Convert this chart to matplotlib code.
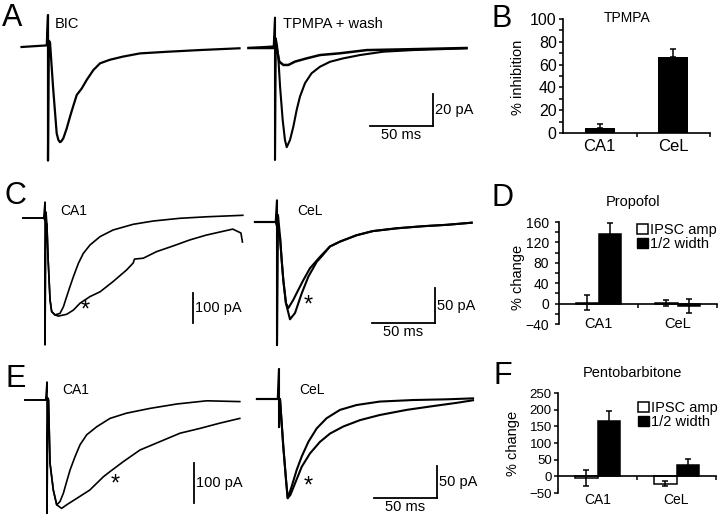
import matplotlib
matplotlib.use('Agg')
import matplotlib.pyplot as plt
from matplotlib.patches import Patch

plt.rcParams['font.family'] = ['Liberation Sans', 'DejaVu Sans']

W, H = 720, 514

# ---- traces: time in ms from the stimulus, current in pA from baseline
# A: BIC / TPMPA + wash
A_bic_t = [-21, -1, 0, 0, 0.6, 1.6, 4, 6.9, 8.2, 9.5, 10.5, 12.2, 14.8, 17.5, 20, 22.8, 26.7,
           30.7, 36, 41.3, 49, 59.5, 73, 94, 120.6, 152]
A_bic_pA = [0, 1, 20, -71, 4, 3, -25, -54, -58, -59.5, -59, -57, -51, -43.5, -37, -30, -26,
            -20.6, -14.4, -10.2, -8, -6, -4, -3, -1.9, -0.8]
A_wash_t = [-21, -1, 0, 0, 0.6, 1.5, 2.6, 4, 6.1, 7.9, 9.3, 11.9, 14.6, 17.2, 19.8, 23.8, 29,
            35.7, 43.7, 54, 67.5, 86, 109.8, 152]
A_wash_pA = [0, 1, 19, -70, 6, 2, -5.4, -24, -45, -57.5, -62, -57.5, -49, -38.7, -30.4, -22,
             -15.8, -11.7, -8.6, -6.5, -4.4, -2.3, -1.3, -0.2]
A_tpmpa_t = [-21, -1, 1.3, 3.4, 6.6, 10.6, 15.9, 25, 35.7, 51.6, 72.8, 104.5, 152]
A_tpmpa_pA = [0, 0, 0, -8.5, -10.6, -10.6, -8.5, -6.5, -4.4, -3.3, -1.3, -0.8, 0]

# C: propofol
C_ca1_ctrl_t = [-17.5, -1, 0, 0, 0.8, 1.5, 2.5, 4, 5.3, 7.9, 11.9, 14.6, 17.2, 19.8, 22.5, 26.5,
                30.4, 35.7, 43.7, 54, 70, 86, 107, 128, 157]
C_ca1_ctrl_pA = [0, 0, 53, -423, 20, -20, -140, -273, -312, -323, -318, -296, -262, -229, -196,
                 -151, -118, -90, -62, -40, -21, -10, -1, 4, 9]
C_ca1_drug_t = [-17.5, -1, 1.5, 2.5, 4, 5.3, 7.9, 10.6, 17.2, 22.5, 27.8, 35.7, 43.7, 54, 64.8,
                70, 71, 78, 88.6, 101.8, 115, 128, 149, 155.5, 156.7]
C_ca1_drug_pA = [0, 0, -20, -140, -273, -312, -323, -327, -321, -307, -284, -262, -246, -212, -173,
                 -150, -137, -134, -112, -93, -73, -57, -37, -50, -80]
C_cel_ctrl_t = [-17.5, -1, 0, 0, 0.8, 2.4, 3.7, 5, 7.1, 9, 13, 16.9, 20.9, 26.2, 34, 42, 50, 63,
                76, 95, 116, 135, 154.5]
C_cel_ctrl_pA = [0, 0, 31, -176, 10, -21, -54, -83, -116, -123, -111, -97, -83, -66, -50, -35, -28,
                 -19, -13, -9, -6, -4, -1]
C_cel_drug_t = [-17.5, -1, 2.4, 3.7, 5, 7.1, 10.3, 14.3, 19.6, 24.9, 31.5, 36, 42, 50, 63, 76, 95,
                116, 135, 154.5]
C_cel_drug_pA = [0, 0, -21, -54, -83, -116, -139, -130, -102, -78, -57, -48, -35, -28, -19, -13, -9,
                 -6, -4, -1]

# E: pentobarbitone
E_ca1_ctrl_t = [-17.5, -1, 0, 0, 0.8, 1.2, 2.4, 5, 7.7, 10.3, 13, 15.6, 18.3, 22.2, 26.2, 31.5,
                39.4, 50, 63, 81.7, 103, 126.7, 153]
E_ca1_ctrl_pA = [0, 0, 45, -285, 5, 0, -158, -225, -262, -254, -233, -204, -175, -142, -112, -87,
                 -67, -46, -33, -21, -10, -2, -4]
E_ca1_drug_t = [-17.5, -1, 1.2, 2.4, 5, 7.7, 11.6, 15.6, 23.6, 34, 44.7, 50, 60.6, 73.8, 89.7,
                105.6, 121.4, 137, 153]
E_ca1_drug_pA = [0, 0, 0, -158, -225, -262, -271, -262, -246, -225, -192, -179, -154, -125, -104,
                 -83, -71, -58, -46]
E_cel_ctrl_t = [-17.5, -1, 0, 0, 0.5, 0.8, 3.4, 5.6, 6.9, 10, 14, 18, 23.3, 29.9, 37.8, 48.4, 61.6,
                80, 106.6, 133, 154]
E_cel_ctrl_pA = [0, 0, 47, -44, 0, 0, -74, -127, -155, -137, -111, -90, -67, -46, -30, -17, -9.4,
                 -4, -1.6, -0.5, 1]
E_cel_drug_t = [-17.5, -1, 0.8, 3.4, 5.6, 6.9, 9, 12.7, 18, 24.6, 32.5, 40.5, 51, 64.3, 80, 101.3,
                122.5, 141, 154]
E_cel_drug_pA = [0, 0, 0, -74, -127, -155, -150, -132, -106, -85, -67, -54, -43, -33, -25, -17,
                 -11, -6, -2]

# ---- bar data
cats = ['CA1', 'CeL']
tpmpa_inhib = [4, 67]
tpmpa_err = [4, 6.5]
prop_amp = [1.5, 1.5]
prop_amp_err = [14.5, 6.5]
prop_width = [136, -4.5]
prop_width_err = [22, 13]
pento_amp = [-6, -22]
pento_amp_err = [24, 7]
pento_width = [167, 33]
pento_width_err = [28, 18]
legend_labels = ['IPSC amp', '1/2 width']

fig = plt.figure(figsize=(W / 100, H / 100), dpi=100)
fig.patch.set_facecolor('white')


def px_rect(left, top, width, height):
    return [left / W, 1 - (top + height) / H, width / W, height / H]


def fxy(x, y):
    return x / W, 1 - y / H


def trace_axes(left, right, top, bottom, stim_x, base_y, px_ms, px_pA):
    # invisible axes; t=0 at the stimulus pixel, 0 pA at the baseline pixel
    ax = fig.add_axes(px_rect(left, top, right - left, bottom - top))
    ax.set_xlim((left - stim_x) / px_ms, (right - stim_x) / px_ms)
    ax.set_ylim(-(bottom - base_y) / px_pA, (base_y - top) / px_pA)
    ax.axis('off')
    return ax


def trace(ax, t, pA, lw=1.2):
    ax.plot(t, pA, color='k', lw=lw, clip_on=False, solid_joinstyle='round')


def scale_bar(ax, t_end, y0, pA, ms=None):
    ax.plot([t_end, t_end], [y0, y0 + pA], color='k', lw=1.3, clip_on=False)
    ax.annotate(f'{pA} pA', xy=(t_end, y0 + pA / 2), xytext=(1.5, 0),
                textcoords='offset points', ha='left', va='center', fontsize=10.5)
    if ms:
        ax.plot([t_end - ms, t_end], [y0, y0], color='k', lw=1.3, clip_on=False)
        ax.annotate(f'{ms} ms', xy=(t_end - ms / 2, y0), xytext=(0, -1.5),
                    textcoords='offset points', ha='center', va='top', fontsize=10.5)


def label(ax, t, pA, s, size=10):
    ax.text(t, pA, s, ha='left', va='center', fontsize=size)


def star(ax, t, pA):
    ax.text(t, pA, '*', ha='center', va='center', fontsize=17)


# ---- row A
ax = trace_axes(0, 246, 0, 165, 48, 47, 1.26, 1.6)
trace(ax, A_bic_t, A_bic_pA, 1.6)
label(ax, 5.6, 14.4, 'BIC', 10.5)

ax = trace_axes(246, 480, 0, 165, 275, 48, 1.26, 1.6)
trace(ax, A_wash_t, A_wash_pA, 1.5)
trace(ax, A_tpmpa_t, A_tpmpa_pA, 1.8)
label(ax, 6.3, 15, 'TPMPA + wash', 10.5)
scale_bar(ax, 125.4, -48.75, 20, 50)

# ---- row C
ax = trace_axes(0, 246, 165, 345, 45, 218, 1.26, 0.3)
trace(ax, C_ca1_ctrl_t, C_ca1_ctrl_pA)
trace(ax, C_ca1_drug_t, C_ca1_drug_pA)
label(ax, 11.9, 23, 'CA1')
star(ax, 31.7, -310)
scale_bar(ax, 117.5, -350, 100)

ax = trace_axes(246, 480, 165, 345, 277, 222, 1.26, 0.7)
trace(ax, C_cel_ctrl_t, C_cel_ctrl_pA, 1.5)
trace(ax, C_cel_drug_t, C_cel_drug_pA, 1.5)
label(ax, 15.9, 15.7, 'CeL')
star(ax, 24.6, -120)
scale_bar(ax, 125.4, -144.3, 50, 50)

# ---- row E
ax = trace_axes(0, 246, 345, 514, 47, 400, 1.26, 0.4)
trace(ax, E_ca1_ctrl_t, E_ca1_ctrl_pA)
trace(ax, E_ca1_drug_t, E_ca1_drug_pA)
label(ax, 11.9, 25, 'CA1')
star(ax, 54, -212)
scale_bar(ax, 116.7, -257.5, 100)

ax = trace_axes(246, 480, 345, 514, 279, 399, 1.26, 0.64)
trace(ax, E_cel_ctrl_t, E_cel_ctrl_pA, 1.5)
trace(ax, E_cel_drug_t, E_cel_drug_pA, 1.5)
label(ax, 15.9, 14, 'CeL')
star(ax, 23, -136)
scale_bar(ax, 125.4, -154.7, 50, 50)


# ---- bar charts
def bar_axes(left, right, top, bottom, ylim, step, minor, tick_size, label_pad, ytick_pad):
    ax = fig.add_axes(px_rect(left, top, right - left, bottom - top))
    ax.set_xlim(0, 2)
    ax.set_ylim(*ylim)
    ax.patch.set_alpha(0)
    for s in ('top', 'right'):
        ax.spines[s].set_visible(False)
    for s in ('left', 'bottom'):
        ax.spines[s].set_linewidth(1.2)
    ax.spines['bottom'].set_position(('data', 0))
    ax.spines['bottom'].set_bounds(0, 2)
    ax.set_xticks([0.5, 1.5], cats, fontsize=tick_size + 0.5)
    ax.set_xticks([1, 2], minor=True)
    ax.tick_params(axis='x', which='major', length=0, pad=label_pad)
    ax.tick_params(axis='x', which='minor', length=3, width=1.1, direction='out')
    ax.set_yticks(range(ylim[0], ylim[1] + 1, step))
    if minor:
        ax.set_yticks(range(ylim[0], ylim[1] + 1, minor), minor=True)
    ax.tick_params(axis='y', which='both', length=3, width=1.1, direction='out',
                   labelsize=tick_size, pad=ytick_pad)
    return ax


# B
ax = bar_axes(563, 710, 19, 133, (0, 100), 20, 10, 11.5, 4.5, 1.5)
ax.bar([0.5, 1.5], tpmpa_inhib, width=0.41, color='k', zorder=2)
ax.errorbar([0.5, 1.5], tpmpa_inhib, yerr=[[0, 0], tpmpa_err], fmt='none',
            ecolor='k', elinewidth=1.1, capsize=2.5, capthick=1.1, zorder=3)
fig.text(*fxy(627, 18), 'TPMPA', ha='center', va='center', fontsize=10)
fig.text(*fxy(518, 77), '% inhibition', ha='center', va='center', rotation=90, fontsize=10.5)


def grouped(ax, amp, amp_err, width, width_err):
    xa = [0.5 - 0.14, 1.5 - 0.14]
    xw = [0.5 + 0.14, 1.5 + 0.14]
    ax.bar(xa, amp, width=0.28, color='white', edgecolor='k', lw=1.1, zorder=2)
    ax.bar(xw, width, width=0.28, color='k', edgecolor='k', lw=1.1, zorder=2)
    ax.errorbar(xa, amp, yerr=amp_err, fmt='none', ecolor='k',
                elinewidth=1.1, capsize=2.5, capthick=1.1, zorder=3)
    ax.errorbar(xw, width, yerr=width_err, fmt='none', ecolor='k',
                elinewidth=1.1, capsize=2.5, capthick=1.1, zorder=3)


def bar_legend(ax, x, y):
    handles = [Patch(facecolor='white', edgecolor='k', lw=1.1),
               Patch(facecolor='k', edgecolor='k')]
    ax.legend(handles, legend_labels, loc='upper left', bbox_to_anchor=fxy(x, y),
              bbox_transform=fig.transFigure, frameon=False, fontsize=10.5,
              handlelength=0.75, handleheight=0.75, handletextpad=0.15,
              labelspacing=0.0, borderpad=0, borderaxespad=0)


# D
ax = bar_axes(559, 717, 222, 324, (-40, 160), 40, 20, 10, 10, 4)
grouped(ax, prop_amp, prop_amp_err, prop_width, prop_width_err)
bar_legend(ax, 637, 223)
fig.text(*fxy(633, 202), 'Propofol', ha='center', va='center', fontsize=10.5)
fig.text(*fxy(518, 277), '% change', ha='center', va='center', rotation=90, fontsize=10.5)

# F
ax = bar_axes(558, 716, 393, 493, (-50, 250), 50, None, 9.5, 12, 1.5)
grouped(ax, pento_amp, pento_amp_err, pento_width, pento_width_err)
bar_legend(ax, 638, 401)
fig.text(*fxy(632, 373), 'Pentobarbitone', ha='center', va='center', fontsize=10.5)
fig.text(*fxy(513, 443), '% change', ha='center', va='center', rotation=90, fontsize=10.5)

# ---- panel letters
for letter, x, y in [('A', 2, 26), ('B', 492, 27), ('C', 4, 204),
                     ('D', 492, 206), ('E', 6, 387), ('F', 493, 384)]:
    fig.text(*fxy(x, y), letter, ha='left', va='baseline', fontsize=22)

fig.savefig('out.png', dpi=100, facecolor='white')
